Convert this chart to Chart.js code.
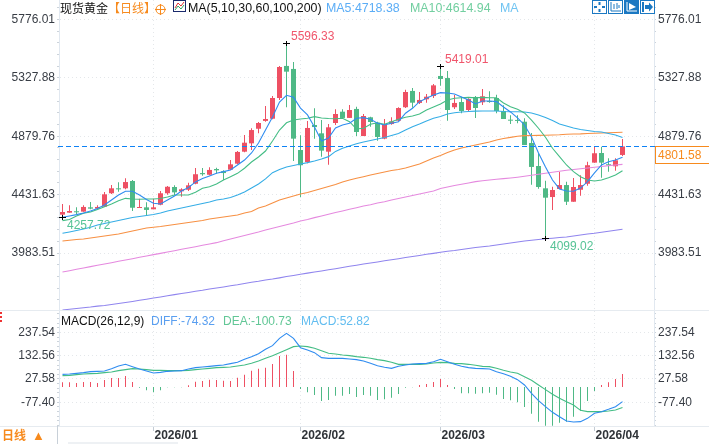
<!DOCTYPE html>
<html>
<head>
<meta charset="utf-8">
<title>现货黄金</title>
<script src="https://cdn.jsdelivr.net/npm/chart.js@4"></script>
<style>
  html, body { margin: 0; background: #fff; }
  #wrap { position: relative; width: 709px; height: 444px; overflow: hidden; font: 12px "Liberation Sans", Arial, sans-serif; }
  canvas { position: absolute; left: 0; }
  .t { position: absolute; white-space: nowrap; line-height: 16px; }
  .h { font-size: 12.4px; }
  .cn { font-family: "Noto Sans CJK SC", sans-serif; }
  .rule { position: absolute; background: #e6ebf0; }
  .btn { position: absolute; top: 0; width: 13px; height: 12px; border: 1px solid #1b78c2; }
</style>
</head>
<body>
<div id="wrap">
  <canvas id="main" width="709" height="311" style="top:0"></canvas>
  <canvas id="macd" width="709" height="133" style="top:311px"></canvas>

  <div class="rule" style="left:0;top:310px;width:709px;height:1px"></div>
  <div class="rule" style="left:0;top:426px;width:709px;height:1px"></div>
  <div class="rule" style="left:57px;top:426px;width:1px;height:18px;background:#c8d0d8"></div>
  <div class="rule" style="left:68px;top:442px;width:110px;height:2px;background:#eef1f4"></div>
  <div style="position:absolute;left:0;top:312px;height:10px;border-left:2px dotted #e33"></div>

  <span class="t cn" style="left:60px;top:0;color:#111">现货黄金</span>
  <span class="t cn" style="left:108px;top:0;color:#f78a1d">【日线】</span>
  <svg style="position:absolute;left:155px;top:4px" width="11" height="11"><circle cx="5.5" cy="5.5" r="4.5" fill="none" stroke="#f78a1d"/><path d="M0 5.5H11M5.5 0V11" stroke="#f78a1d"/></svg>
  <svg style="position:absolute;left:173px;top:0" width="13" height="12"><rect x=".5" y=".5" width="12" height="11" fill="#fff" stroke="#1a2a6c"/><path d="M2 8L5 3L8 6L11 2" fill="none" stroke="#d33"/><path d="M2 10L5 6L8 9L11 5" fill="none" stroke="#3a6"/></svg>
  <span class="t h" style="left:188px;top:0;color:#111">MA(5,10,30,60,100,200)</span>
  <span class="t h" style="left:326px;top:0;color:#5badf6">MA5:4718.38</span>
  <span class="t h" style="left:410px;top:0;color:#72cfa0">MA10:4614.94</span>
  <span class="t h" style="left:500px;top:0;color:#70c4f2">MA</span>

  <div class="btn" style="left:592px"><svg width="13" height="12"><path d="M6.5 1V4M6.5 8V11M1 6H4M9 6H12" stroke="#1b78c2" stroke-width="2"/></svg></div>
  <div class="btn" style="left:608px"><svg width="13" height="12"><path d="M2 1V10H12M5 3V8M8 2V8M10 4V7" fill="none" stroke="#1b78c2"/></svg></div>
  <div class="btn" style="left:624px;background:#1b78c2"><svg width="13" height="12"><path d="M2 1V10H12" fill="none" stroke="#fff"/><path d="M4 2L11 6L4 9Z" fill="#fff"/></svg></div>
  <div class="btn" style="left:640px"><svg width="13" height="12"><path d="M2 1V11" stroke="#1b78c2" stroke-width="2"/><path d="M4 4H8V1.5L12 6L8 10.5V8H4Z" fill="#1b78c2"/></svg></div>

  <span class="t" style="left:61px;top:313px;color:#111">MACD(26,12,9)</span>
  <span class="t" style="left:151px;top:313px;color:#5a9ff0">DIFF:-74.32</span>
  <span class="t" style="left:223px;top:313px;color:#62c796">DEA:-100.73</span>
  <span class="t" style="left:301px;top:313px;color:#62bdf0">MACD:52.82</span>

  <span class="t cn" style="left:2px;top:427px;color:#f78a1d;font-weight:bold">日线</span>
  <span class="t" style="left:32px;top:428px;color:#f78a1d;font-size:13px">▲</span>
</div>

<script>
'use strict';

// trading days, the last four are the empty room on the right of the chart
let categories = [
  '2025/12/16','2025/12/17','2025/12/18','2025/12/19','2025/12/22','2025/12/23','2025/12/24','2025/12/25','2025/12/26','2025/12/29',
  '2025/12/30','2025/12/31','2026/01/01','2026/01/02','2026/01/05','2026/01/06','2026/01/07','2026/01/08','2026/01/09','2026/01/12',
  '2026/01/13','2026/01/14','2026/01/15','2026/01/16','2026/01/19','2026/01/20','2026/01/21','2026/01/22','2026/01/23','2026/01/26',
  '2026/01/27','2026/01/28','2026/01/29','2026/01/30','2026/02/02','2026/02/03','2026/02/04','2026/02/05','2026/02/06','2026/02/09',
  '2026/02/10','2026/02/11','2026/02/12','2026/02/13','2026/02/16','2026/02/17','2026/02/18','2026/02/19','2026/02/20','2026/02/23',
  '2026/02/24','2026/02/25','2026/02/26','2026/02/27','2026/03/02','2026/03/03','2026/03/04','2026/03/05','2026/03/06','2026/03/09',
  '2026/03/10','2026/03/11','2026/03/12','2026/03/13','2026/03/16','2026/03/17','2026/03/18','2026/03/19','2026/03/20','2026/03/23',
  '2026/03/24','2026/03/25','2026/03/26','2026/03/27','2026/03/30','2026/03/31','2026/04/01','2026/04/02','2026/04/03','2026/04/06',
  '2026/04/07','2026/04/08','2026/04/09','2026/04/10','2026/04/13'
];
let monthStarts = ['2026/01/02', '2026/02/02', '2026/03/02', '2026/04/01'];

let opens = [
  4278,4293,4304,4301,4334,4324,4339,4442,4480,4480,
  4536,4329,4334,4319,4354,4442,4490,4457,4469,4515,
  4597,4584,4628,4611,4623,4669,4761,4825,4937,4997,
  5014,5173,5419,5396,4774,4682,4966,4902,4761,4981,
  5068,5020,5089,4881,5025,4983,4861,4973,4999,5102,
  5227,5135,5163,5188,5342,5326,5102,5142,5081,5181,
  5140,5150,5173,5073,5006,5004,4991,4828,4651,4480,
  4413,4475,4505,4377,4469,4515,4677,4751,4664,4649,
  4736
];
let highs = [
  4360,4350,4334,4350,4375,4350,4452,4505,4526,4557,
  4544,4400,4373,4400,4459,4498,4503,4480,4523,4636,
  4636,4641,4638,4618,4697,4766,4889,4941,4989,5112,
  5188,5419,5596.33,5449,4887,4997,5094,5004,4973,5086,
  5086,5119,5106,5050,5029,4991,5012,5025,5102,5237,
  5250,5219,5204,5280,5419.01,5380,5196,5183,5171,5188,
  5242,5224,5198,5117,5040,5040,5017,4904,4749,4538,
  4492,4605,4531,4559,4580,4684,4805,4799,4710,4710,
  4858
];
let lows = [
  4257.72,4293,4283,4301,4319,4324,4337,4436,4454,4472,
  4306,4329,4275,4319,4350,4431,4426,4416,4459,4511,
  4577,4580,4592,4544,4621,4664,4756,4774,4902,4991,
  5010,5158,5102,4690,4411,4672,4861,4723,4661,4966,
  5014,5020,4881,4881,4953,4845,4856,4968,4994,5096,
  5099,5127,5137,5173,5267,4999,5089,5056,5066,5020,
  5119,5137,5056,5012,4973,4979,4812,4508,4477,4099.02,
  4314,4475,4352,4377,4423,4500,4677,4561,4607,4615,
  4728
];
let closes = [
  4298,4306,4296,4337,4324,4337,4434,4480,4472,4528,
  4331,4334,4314,4334,4442,4492,4449,4472,4503,4588,
  4588,4621,4618,4597,4664,4759,4830,4927,4981,5012,
  5173,5411,5375,4861,4657,4943,4950,4769,4948,5050,
  5020,5081,4912,5035,4989,4874,4971,4994,5096,5219,
  5137,5158,5183,5270,5319,5081,5135,5073,5165,5096,
  5186,5142,5073,5012,4999,4997,4812,4644,4490,4408,
  4467,4505,4377,4490,4505,4657,4749,4677,4657,4695,
  4801.58
];

let ma5 = [
  4258,4268,4278,4291,4306,4325,4352,4390,4429,4457,
  4457,4429,4394,4365,4360,4390,4421,4459,4486,4529,
  4555,4575,4595,4608,4621,4659,4697,4751,4828,4927,
  5027,5142,5194,5178,5096,5043,4950,4843,4866,4943,
  4966,4979,5017,5022,5010,4979,4966,4979,4991,5056,
  5094,5145,5171,5196,5214,5211,5204,5181,5158,5127,
  5150,5150,5145,5104,5066,5020,4966,4874,4751,4644,
  4544,4475,4459,4457,4482,4531,4598,4659,4684,4697,
  4718.38
];
let ma10 = [
  4232,4241,4268,4288,4298,4318,4339,4360,4385,4403,
  4398,4396,4398,4398,4402,4413,4429,4429,4429,4449,
  4480,4492,4513,4544,4569,4595,4634,4682,4720,4766,
  4843,4927,4983,5004,5012,5017,5030,5020,5016,5014,
  5017,4991,4935,4941,4971,4983,4971,4991,5010,5025,
  5035,5050,5081,5104,5127,5158,5171,5175,5178,5175,
  5178,5175,5175,5135,5106,5086,5058,5004,4941,4872,
  4787,4723,4659,4608,4569,4544,4536,4544,4561,4582,
  4614.94
];
let ma30 = [
  4135,4145,4156,4168,4181,4199,4210,4222,4233,4245,
  4256,4264,4271,4279,4291,4306,4318,4329,4341,4352,
  4364,4375,4390,4398,4410,4429,4452,4482,4513,4552,
  4600,4624,4644,4655,4667,4677,4690,4705,4723,4763,
  4787,4805,4822,4835,4847,4858,4870,4885,4901,4928,
  4953,4974,4997,5017,5031,5050,5060,5066,5069,5072,
  5073,5073,5073,5069,5068,5068,5066,5058,5043,5023,
  5000,4974,4958,4943,4931,4924,4916,4912,4901,4889,
  4870
];
let ma60 = [
  4076,4081,4087,4091,4099,4106,4114,4122,4130,4141,
  4153,4164,4176,4181,4187,4195,4202,4210,4218,4225,
  4233,4245,4252,4260,4268,4275,4291,4302,4329,4344,
  4367,4390,4406,4421,4436,4448,4463,4479,4494,4509,
  4529,4544,4557,4569,4582,4594,4605,4617,4624,4636,
  4651,4667,4690,4713,4732,4755,4774,4789,4801,4812,
  4824,4835,4851,4862,4871,4879,4884,4885,4886,4887,
  4889,4891,4895,4897,4898,4901,4902,4904,4906,4908,
  4910
];
let ma100 = [
  3838,3848,3859,3869,3879,3889,3899,3909,3920,3930,
  3940,3951,3961,3971,3981,3991,4001,4012,4022,4032,
  4043,4053,4063,4078,4091,4104,4118,4132,4145,4160,
  4173,4187,4201,4214,4229,4241,4255,4268,4281,4294,
  4306,4319,4331,4344,4354,4367,4377,4390,4402,4413,
  4425,4436,4448,4459,4479,4490,4502,4511,4521,4531,
  4538,4544,4549,4554,4559,4565,4572,4580,4588,4595,
  4603,4611,4618,4624,4630,4636,4641,4647,4654,4659,
  4664
];
let ma200 = [
  3546,3552,3558,3564,3569,3576,3581,3589,3596,3604,
  3612,3621,3629,3638,3646,3655,3664,3673,3681,3690,
  3698,3708,3715,3723,3732,3740,3750,3759,3767,3777,
  3784,3793,3803,3811,3820,3829,3838,3846,3855,3863,
  3872,3882,3890,3899,3907,3915,3924,3932,3940,3949,
  3957,3965,3974,3981,3989,3997,4003,4011,4018,4026,
  4032,4037,4045,4053,4060,4068,4076,4082,4087,4093,
  4097,4102,4106,4114,4122,4130,4135,4143,4150,4158,
  4166
];

let diff = [
  48.6,50.1,53.1,56.1,60.6,62.1,63.6,74.1,86.1,93.6,
  83.1,72.6,63.6,54.6,57.6,62.1,63.6,65.1,72.6,78.6,
  81.6,84.6,87.6,90.6,96.6,102.6,116.1,128.1,141.6,161.1,
  177.6,210.6,233.1,210.6,168.6,158.1,146.1,123.6,120.6,120.6,
  120.6,117.6,114.6,108.6,98.1,87.6,80.1,75.6,84.6,90.6,
  95.1,96.6,98.1,105.6,116.1,105.6,93.6,84.6,78.6,75.6,
  74.1,72.6,60.6,51.6,39.6,24.6,0.6,-36.9,-69.9,-96.9,
  -122.4,-141.9,-161.4,-165.9,-164.4,-149.4,-126.9,-119.4,-108.9,-96.9,
  -74.32
];
let dea = [
  42.6,44.1,47.1,50.1,51.6,53.1,56.1,59.1,65.1,69.6,
  74.1,72.6,69.6,66.6,66.6,65.1,65.1,65.1,66.6,69.6,
  72.6,75.6,78.6,80.1,81.6,86.1,90.6,98.1,108.6,120.6,
  132.6,146.1,159.6,173.1,176.1,173.1,165.6,155.1,143.1,140.1,
  135.6,132.6,128.1,125.1,120.6,114.6,110.1,102.6,93.6,93.6,
  93.6,93.6,95.1,99.6,102.6,101.1,98.1,96.6,93.6,89.1,
  84.6,83.1,75.6,66.6,59.1,53.1,38.1,21.6,0.6,-20.4,
  -41.4,-59.4,-74.4,-89.4,-113.4,-119.4,-119.4,-119.4,-116.4,-111.9,
  -100.73
];
let macdBars = [
  18.9,18.9,16.2,20.3,20.3,16.2,28.4,36.5,36.5,44.6,
  20.3,-2.7,-13.5,-21.6,-13.5,-1.4,-1.4,-1.4,6.8,21.6,
  24.4,29.8,28.4,25.7,24.4,37.9,50.1,66.3,74.4,78.5,
  93.4,125.8,131.2,64.9,-8.1,-21.6,-32.5,-56.8,-52.8,-35.2,
  -35.2,-28.4,-40.6,-32.5,-35.2,-52.8,-50.1,-43.3,-28.4,-2.7,
  -1.4,8.1,12.2,20.3,32.5,8.1,-8.1,-25.7,-25.7,-27.1,
  -25.7,-23,-31.1,-48.7,-54.1,-62.2,-81.2,-108.2,-140.7,-157,
  -157,-144.8,-140.7,-120.4,-97.4,-56.8,-16.2,8.1,18.9,32.5,
  52.82
];

let priceTicks = [5776.01, 5327.88, 4879.76, 4431.63, 3983.51];
let macdTicks = [237.54, 132.56, 27.58, -77.40];
let lastPrice = 4801.58;
let highMarks = [32, 54];
let lowMarks = [0, 69];

const RED = '#ee5063';
const GREEN = '#4fb986';
const GRID = '#e4e7ea';
const AXIS = '#e1e8f0';
const TEXT = '#383d45';
const FONT = { family: '"Liberation Sans", Arial, sans-serif', size: 12 };

Chart.defaults.font.family = FONT.family;
Chart.defaults.font.size = FONT.size;

// major ticks come from the list, the dots between them are every fifth of a step
function tickList(majors, min, max) {
  let step = (majors[0] - majors[1]) / 5;
  let list = [];
  let start = majors[0] + step * Math.ceil((max - majors[0]) / step - 1);
  for (let v = start; v >= min; v -= step) {
    let hit = majors.find(m => Math.abs(m - v) < step / 10);
    list.push(hit !== undefined ? { value: hit, major: true } : { value: v, major: false });
  }
  return list;
}

function valueAxis(majors, min, max, position, width, drawGrid) {
  return {
    position: position,
    min: min,
    max: max,
    // keep the plot exactly where it belongs, tick labels may stick out
    afterFit: scale => {
      scale.width = width;
      scale.paddingTop = 0;
      scale.paddingBottom = 0;
    },
    afterBuildTicks: scale => { scale.ticks = tickList(majors, min, max); },
    border: { color: AXIS, dash: [1, 3] },
    grid: {
      drawOnChartArea: drawGrid,
      color: ctx => (ctx.tick && ctx.tick.major ? GRID : 'transparent'),
      tickColor: '#ccd3da',
      tickLength: 2
    },
    ticks: {
      autoSkip: false,
      color: TEXT,
      padding: 2,
      font: FONT,
      callback: v => (majors.includes(v) ? v.toFixed(2) : '')
    }
  };
}

function monthGrid(ctx) {
  return monthStarts.includes(categories[ctx.index]) ? GRID : 'transparent';
}

function monthLabel(value, index) {
  return monthStarts.includes(categories[index]) ? categories[index].slice(0, 7) : '';
}

function noSidePadding(scale) {
  scale.paddingLeft = 0;
  scale.paddingRight = 0;
}

function maLine(label, data, color) {
  return {
    type: 'line',
    label: label,
    data: data,
    borderColor: color,
    borderWidth: 1.1,
    pointRadius: 0,
    tension: 0,
    order: 1,
    yAxisID: 'y'
  };
}

// last price line, price box and the high / low notes
let pricePlugin = {
  id: 'priceNotes',
  afterDatasetsDraw(chart) {
    let { ctx, chartArea } = chart;
    let x = chart.scales.x;
    let y = chart.scales.y;
    let lineY = Math.round(y.getPixelForValue(lastPrice)) + 0.5;

    ctx.save();
    ctx.lineWidth = 1;
    ctx.strokeStyle = '#0f82f5';
    ctx.setLineDash([5, 3]);
    ctx.beginPath();
    ctx.moveTo(chartArea.left - 1, lineY);
    ctx.lineTo(chartArea.right + 1, lineY);
    ctx.stroke();
    ctx.setLineDash([]);

    ctx.fillStyle = '#fff';
    ctx.strokeStyle = '#f78a1d';
    ctx.fillRect(chartArea.right + 1.5, lineY, 60, 17);
    ctx.strokeRect(chartArea.right + 1.5, lineY, 60, 17);
    ctx.fillStyle = '#f78a1d';
    ctx.font = '12px ' + FONT.family;
    ctx.textBaseline = 'middle';
    ctx.fillText(lastPrice.toFixed(2), chartArea.right + 4, lineY + 9);

    ctx.strokeStyle = '#000';
    for (let i of highMarks.concat(lowMarks)) {
      let isHigh = highMarks.includes(i);
      let px = Math.floor(x.getPixelForValue(i)) + 0.5;
      let py = Math.round(y.getPixelForValue(isHigh ? highs[i] : lows[i])) + 0.5;
      ctx.beginPath();
      ctx.moveTo(px - 3.5, py);
      ctx.lineTo(px + 3.5, py);
      ctx.moveTo(px, py - 2.5);
      ctx.lineTo(px, py + 2.5);
      ctx.stroke();
      ctx.fillStyle = isHigh ? '#f0566c' : '#56c396';
      ctx.fillText((isHigh ? highs[i] : lows[i]).toFixed(2), px + 4.5, py + (isHigh ? -7 : 8.5));
    }
    ctx.restore();
  }
};

function renderMain() {
  let up = closes.map((c, i) => (c >= opens[i] ? RED : GREEN));
  let yMin = 3538.6;
  let yMax = 5924.9;

  new Chart(document.getElementById('main'), {
    type: 'bar',
    plugins: [pricePlugin],
    data: {
      labels: categories,
      datasets: [
        maLine('MA5', ma5, '#2f8cf0'),
        maLine('MA10', ma10, '#44bd85'),
        maLine('MA30', ma30, '#35ade6'),
        maLine('MA60', ma60, '#f79043'),
        maLine('MA100', ma100, '#e58adf'),
        maLine('MA200', ma200, '#9085ee'),
        {
          label: 'body',
          data: opens.map((o, i) => [o, closes[i]]),
          backgroundColor: up,
          barThickness: 5,
          minBarLength: 1,
          inflateAmount: 0,
          grouped: false,
          order: 2,
          yAxisID: 'y'
        },
        {
          label: 'wick',
          data: lows.map((l, i) => [l, highs[i]]),
          backgroundColor: up,
          barThickness: 1,
          inflateAmount: 0,
          grouped: false,
          order: 3,
          yAxisID: 'y'
        }
      ]
    },
    options: {
      responsive: false,
      animation: false,
      devicePixelRatio: 1,
      layout: { padding: 0 },
      plugins: { legend: { display: false }, tooltip: { enabled: false } },
      scales: {
        x: {
          offset: true,
          afterFit: noSidePadding,
          border: { display: false, dash: [1, 3] },
          grid: { offset: false, color: monthGrid, drawTicks: false },
          ticks: { display: false, autoSkip: false, callback: monthLabel }
        },
        y: valueAxis(priceTicks, yMin, yMax, 'left', 59, true),
        yRight: valueAxis(priceTicks, yMin, yMax, 'right', 55, false)
      }
    }
  });
}

function renderMacd() {
  let yMin = -183.92;
  let yMax = 333.58;

  new Chart(document.getElementById('macd'), {
    type: 'bar',
    data: {
      labels: categories,
      datasets: [
        { type: 'line', label: 'DIFF', data: diff, borderColor: '#2f8cf0', borderWidth: 1.1, pointRadius: 0, order: 1, yAxisID: 'y' },
        { type: 'line', label: 'DEA', data: dea, borderColor: '#44bd85', borderWidth: 1.1, pointRadius: 0, order: 1, yAxisID: 'y' },
        {
          label: 'MACD',
          data: macdBars,
          backgroundColor: macdBars.map(v => (v >= 0 ? RED : GREEN)),
          barThickness: 1,
          inflateAmount: 0,
          order: 2,
          yAxisID: 'yBars'
        }
      ]
    },
    options: {
      responsive: false,
      animation: false,
      devicePixelRatio: 1,
      layout: { padding: 0 },
      plugins: { legend: { display: false }, tooltip: { enabled: false } },
      scales: {
        x: {
          offset: true,
          afterFit: scale => {
            scale.height = 18;
            noSidePadding(scale);
          },
          border: { display: false, dash: [1, 3] },
          grid: { offset: false, color: monthGrid, tickColor: ctx => (monthGrid(ctx) === GRID ? '#c4ccd4' : 'transparent'), tickLength: 5 },
          ticks: {
            autoSkip: false,
            maxRotation: 0,
            minRotation: 0,
            align: 'start',
            labelOffset: 1,
            padding: -3,
            color: '#2f3338',
            font: { family: FONT.family, size: 12, weight: 'bold' },
            callback: monthLabel
          }
        },
        y: valueAxis(macdTicks, yMin, yMax, 'left', 59, true),
        yRight: valueAxis(macdTicks, yMin, yMax, 'right', 55, false),
        // the bars have their own zero line, a little below the one the tick labels imply
        yBars: { display: false, min: -158.3, max: 308.6 }
      }
    }
  });
}

renderMain();
renderMacd();
</script>
</body>
</html>
